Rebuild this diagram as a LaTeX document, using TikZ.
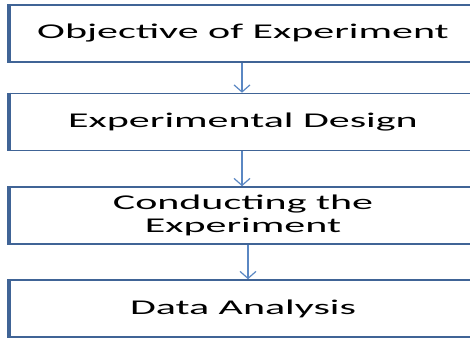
\documentclass[tikz,border=0pt]{standalone}
\usepackage{fontspec}
\setmainfont{Carlito}
\usepackage{graphicx}
\usetikzlibrary{arrows.meta,positioning}
\definecolor{boxblue}{RGB}{64,100,150}
\definecolor{arrowblue}{RGB}{90,135,195}
\newcommand{\wide}[1]{\scalebox{2.0}[1]{#1}}

\begin{document}
\begin{tikzpicture}[x=1pt,y=-1pt,
  stage/.style={draw=boxblue, line width=1.6pt, minimum width=466pt, minimum height=57pt,
    inner sep=0pt, align=center, font=\fontsize{21}{23}\selectfont},
  flow/.style={draw=arrowblue, line width=1.2pt, -{Straight Barb[length=7pt,width=16pt]}}]
\useasboundingbox (0,0) rectangle (470,338);
\clip (0,0) rectangle (470,338);

% Stages (right side runs off the page)
\node[stage] (objective) at (243,33.5) {\wide{Objective of Experiment}};
\node[stage] (design) at (243,122) {\wide{Experimental Design}};
\node[stage] (conduct) at (243,215.5) {\wide{Conducting the}\\\wide{Experiment}};
\node[stage] (analysis) at (243,308.5) {\wide{Data Analysis}};

% thick left edges
\foreach \n in {objective,design,conduct,analysis}
  \draw[boxblue, line width=3.5pt] (\n.north west) -- (\n.south west);

% Arrows
\draw[flow] ([xshift=-1pt]objective.south) -- ([xshift=-1pt]design.north);
\draw[flow] ([xshift=-1pt]design.south) -- ([xshift=-1pt]conduct.north);
\draw[flow] ([xshift=5pt]conduct.south) -- ([xshift=5pt]analysis.north);
\end{tikzpicture}
\end{document}
